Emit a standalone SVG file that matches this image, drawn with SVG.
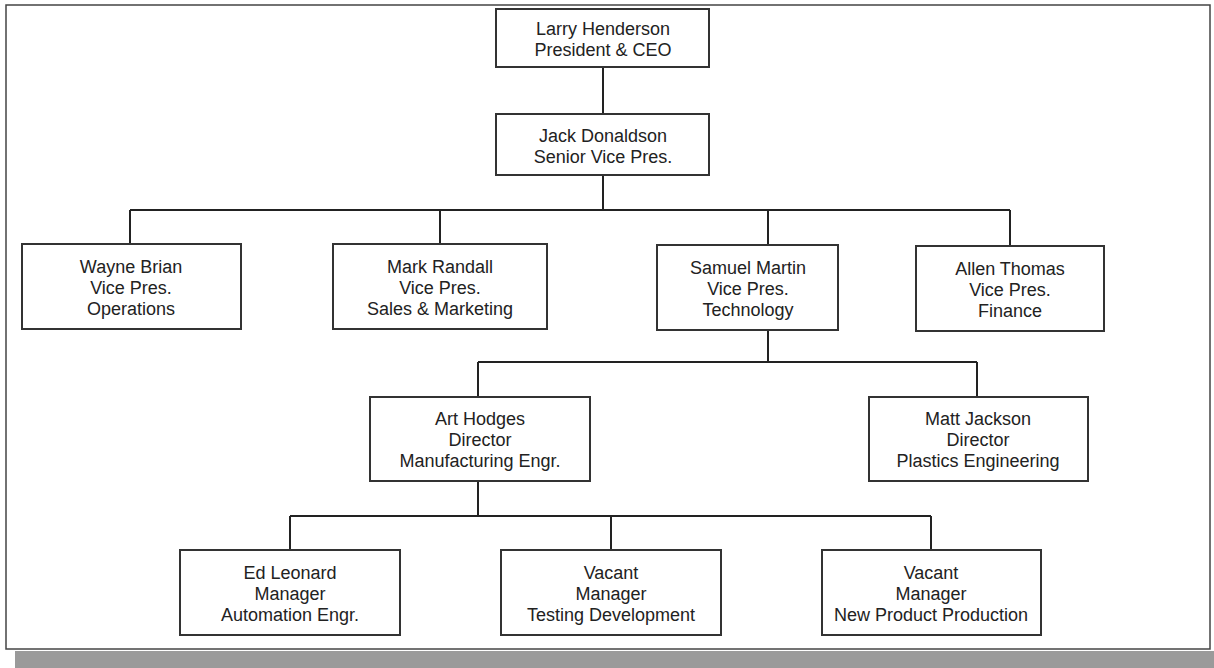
<svg xmlns="http://www.w3.org/2000/svg" width="1214" height="668" viewBox="0 0 1214 668">
<style>
.box{fill:#fff;stroke:#333;stroke-width:2}
.ln{fill:none;stroke:#222;stroke-width:2}
text{font-family:"Liberation Sans",Arial,sans-serif;font-size:18px;fill:#222;text-anchor:middle}
</style>
<rect x="0" y="0" width="1214" height="668" fill="#fff"/>
<rect x="6" y="5" width="1204" height="644" fill="none" stroke="#444" stroke-width="1.5"/>
<rect x="15" y="651" width="1199" height="17" fill="#9a9a9a"/>
<g id="connectors">
<path class="ln" d="M603 67V114M603 175V210M130 210H1010M130 210V244M440 210V244M768 210V245M1010 210V246"/>
<path class="ln" d="M768 330V362M478 362H977M478 362V397M977 362V397"/>
<path class="ln" d="M478 481V516M290 516H931M290 516V550M611 516V550M931 516V550"/>
</g>
<g id="larry"><rect class="box" x="496" y="9" width="213" height="58"/><text x="603" y="35">Larry Henderson</text><text x="603" y="56">President &amp; CEO</text></g>
<g id="jack"><rect class="box" x="496" y="114" width="213" height="61"/><text x="603" y="142">Jack Donaldson</text><text x="603" y="163">Senior Vice Pres.</text></g>
<g id="wayne"><rect class="box" x="22" y="244" width="219" height="85"/><text x="131" y="273">Wayne Brian</text><text x="131" y="294">Vice Pres.</text><text x="131" y="315">Operations</text></g>
<g id="mark"><rect class="box" x="333" y="244" width="214" height="85"/><text x="440" y="273">Mark Randall</text><text x="440" y="294">Vice Pres.</text><text x="440" y="315">Sales &amp; Marketing</text></g>
<g id="samuel"><rect class="box" x="657" y="245" width="181" height="85"/><text x="748" y="274">Samuel Martin</text><text x="748" y="295">Vice Pres.</text><text x="748" y="316">Technology</text></g>
<g id="allen"><rect class="box" x="916" y="246" width="188" height="85"/><text x="1010" y="275">Allen Thomas</text><text x="1010" y="296">Vice Pres.</text><text x="1010" y="317">Finance</text></g>
<g id="art"><rect class="box" x="370" y="397" width="220" height="84"/><text x="480" y="425">Art Hodges</text><text x="480" y="446">Director</text><text x="480" y="467">Manufacturing Engr.</text></g>
<g id="matt"><rect class="box" x="869" y="397" width="219" height="84"/><text x="978" y="425">Matt Jackson</text><text x="978" y="446">Director</text><text x="978" y="467">Plastics Engineering</text></g>
<g id="ed"><rect class="box" x="180" y="550" width="220" height="85"/><text x="290" y="579">Ed Leonard</text><text x="290" y="600">Manager</text><text x="290" y="621">Automation Engr.</text></g>
<g id="vacant1"><rect class="box" x="501" y="550" width="220" height="85"/><text x="611" y="579">Vacant</text><text x="611" y="600">Manager</text><text x="611" y="621">Testing Development</text></g>
<g id="vacant2"><rect class="box" x="822" y="550" width="219" height="85"/><text x="931" y="579">Vacant</text><text x="931" y="600">Manager</text><text x="931" y="621">New Product Production</text></g>
</svg>
